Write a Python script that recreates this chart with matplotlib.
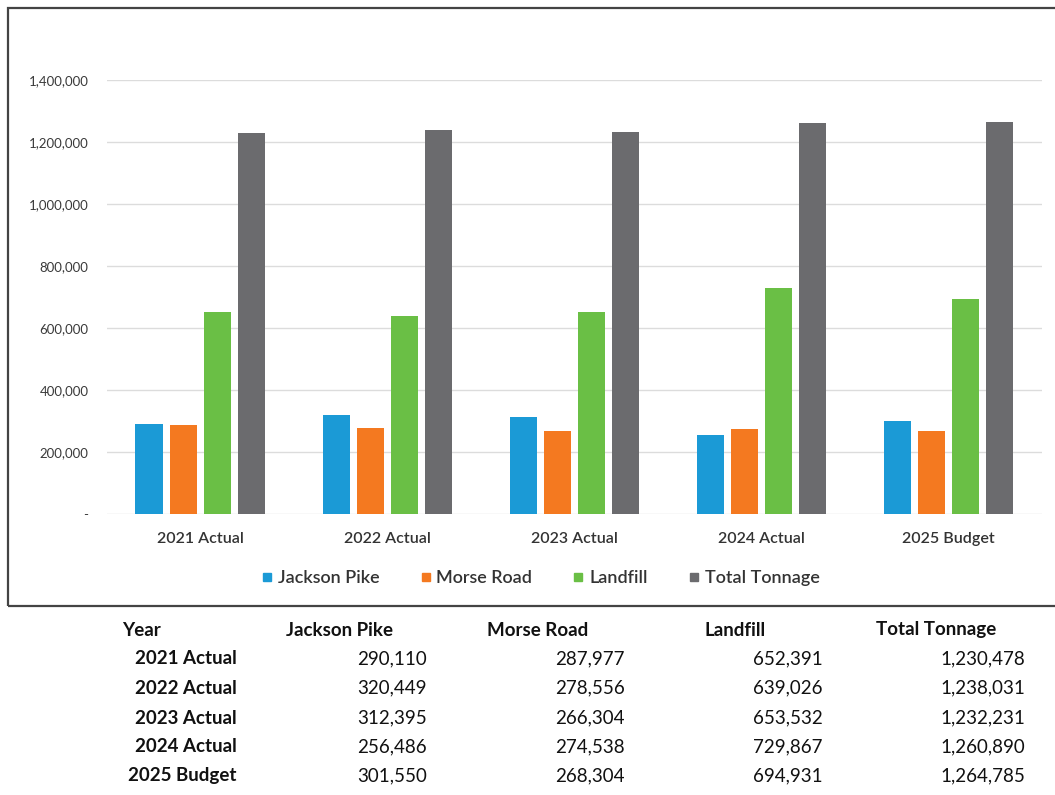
import numpy as np
import matplotlib.pyplot as plt
from matplotlib.lines import Line2D
from matplotlib.patches import Rectangle
from matplotlib.ticker import FuncFormatter

plt.rcParams['font.family'] = ['Lato', 'DejaVu Sans']

# Tonnage by site and year
years = ['2021 Actual', '2022 Actual', '2023 Actual', '2024 Actual', '2025 Budget']
jackson_pike = [290110, 320449, 312395, 256486, 301550]
morse_road = [287977, 278556, 266304, 274538, 268304]
landfill = [652391, 639026, 653532, 729867, 694931]
total_tonnage = [1230478, 1238031, 1232231, 1260890, 1264785]

series_names = ['Jackson Pike', 'Morse Road', 'Landfill', 'Total Tonnage']
series_values = [jackson_pike, morse_road, landfill, total_tonnage]
colors = ['#1b9ad6', '#f47920', '#6abf45', '#6b6b6e']

fig = plt.figure(figsize=(10.55, 7.95), dpi=100)
ax = fig.add_axes([0.101, 0.3535, 0.887, 0.5455])

x = np.arange(len(years))
width = 0.145
step = 0.182
for i, (name, vals) in enumerate(zip(series_names, series_values)):
    ax.bar(x + (i - 1.5) * step, vals, width, color=colors[i], label=name, zorder=3)

ax.set_xlim(-0.5, len(years) - 0.5)
ax.set_ylim(0, 1400000)
ax.set_yticks(np.arange(0, 1400001, 200000))
ax.yaxis.set_major_formatter(FuncFormatter(lambda v, p: '-' if v == 0 else f'{int(v):,}'))
ax.set_xticks(x)
ax.set_xticklabels(years, fontsize=11.5, fontweight='semibold', color='#333333')
ax.tick_params(axis='y', labelsize=9.5, labelcolor='#3a3a3a', length=0, pad=13)
ax.tick_params(axis='x', length=0, pad=13)
ax.grid(axis='y', color='#dcdcdc', linewidth=1, zorder=0)
for s in ax.spines.values():
    s.set_visible(False)

# legend below the categories
handles = [Line2D([], [], marker='s', linestyle='', markersize=6, color=c) for c in colors]
leg = fig.legend(handles, series_names, loc='center', bbox_to_anchor=(0.512, 1 - 578 / 795),
                 ncol=4, frameon=False, handlelength=0.7, handletextpad=0.25,
                 columnspacing=2.2, prop={'size': 13, 'weight': 'semibold'})
for t in leg.get_texts():
    t.set_color('#333333')

# frame around the chart
fig.patches.append(Rectangle((8 / 1055, 1 - 606 / 795), 1.1, 598 / 795,
                             transform=fig.transFigure, fill=False,
                             edgecolor='#444444', linewidth=1.6))

# data table under the chart
header_y = 630
row_ys = [659, 688, 718, 747, 776]
header_x = [122, 286, 487, 705, 876]
value_right = [427, 625, 823, 1025]
tc = '#111111'
fs = 13.5
fig.text(header_x[0] / 1055, 1 - header_y / 795, 'Year', fontsize=fs, fontweight='bold',
         ha='left', va='center', color=tc)
for name, hx in zip(series_names, header_x[1:]):
    fig.text(hx / 1055, 1 - header_y / 795, name, fontsize=fs, fontweight='bold',
             ha='left', va='center', color=tc)
for r, (yr, ry) in enumerate(zip(years, row_ys)):
    fig.text(237 / 1055, 1 - ry / 795, yr, fontsize=fs, fontweight='bold',
             ha='right', va='center', color=tc)
    for vals, vx in zip(series_values, value_right):
        fig.text(vx / 1055, 1 - ry / 795, f'{vals[r]:,}', fontsize=fs,
                 ha='right', va='center', color=tc)

fig.savefig('out.png', dpi=100)
